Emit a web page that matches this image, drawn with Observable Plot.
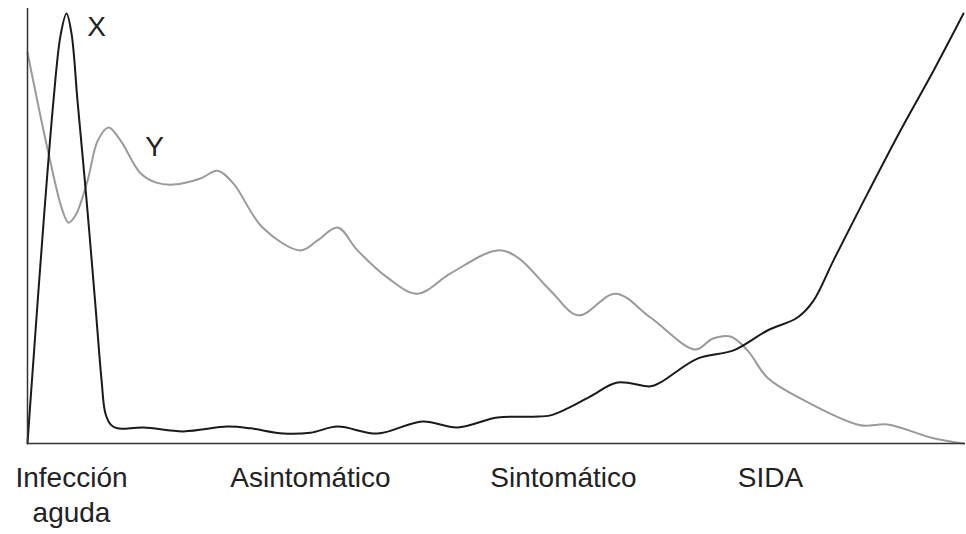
<!DOCTYPE html>
<html>
<head>
<meta charset="utf-8">
<script src="https://cdn.jsdelivr.net/npm/d3@7"></script>
<script src="https://cdn.jsdelivr.net/npm/@observablehq/plot@0.6"></script>
<style>
  html, body { margin: 0; padding: 0; background: #fff; }
  #chart { width: 966px; height: 534px; }
</style>
</head>
<body>
<div id="chart"></div>
<script>
// Time axis (0–100, arbitrary units) and level (0–100, arbitrary units)
const xTime = [0, 0.32, 1.71, 2.77, 3.52, 4.16, 4.69, 5.33, 6.3, 7.2, 7.9, 8.3, 8.9, 9.59, 12.37, 16.63, 21.32, 23.77, 27.29, 30.17, 33.05, 37.31, 42.11, 45.84, 50.11, 53.94, 55.76, 57.57, 60.02, 62.90, 66.42, 67.48, 71.43, 75.27, 78.89, 82.09, 83.80, 85.93, 89.55, 93.07, 96.59, 99.79];
const xLevel = [0, 9.9, 51.0, 79.2, 94.2, 99.3, 94.7, 79.2, 56.1, 33.0, 14.5, 7.0, 4.3, 3.5, 3.7, 2.8, 3.9, 3.5, 2.3, 2.5, 3.9, 2.3, 5.1, 3.7, 6.0, 6.2, 6.5, 8.1, 10.9, 14.1, 13.2, 14.1, 19.6, 21.5, 26.1, 29.1, 33.0, 42.3, 57.7, 72.3, 86.1, 99.3];

const yTime = [0, 2.24, 3.73, 4.37, 5.12, 6.40, 7.5, 8.64, 9.91, 12.05, 13.65, 15.57, 18.44, 20.26, 21.96, 25.05, 29.10, 30.92, 33.05, 35.18, 38.38, 41.58, 45.10, 50.11, 52.24, 55.76, 58.74, 62.69, 66.42, 71.22, 73.03, 74.95, 76.76, 78.89, 82.41, 88.81, 91.68, 96.59, 99.79];
const yLevel = [90.3, 67.0, 53.8, 51.0, 52.7, 60.7, 70.0, 73.0, 70.0, 62.4, 60.3, 59.8, 61.2, 63.0, 60.0, 49.9, 44.6, 46.9, 49.9, 44.6, 38.3, 34.6, 39.3, 44.6, 43.0, 35.3, 29.6, 34.6, 29.1, 21.7, 24.2, 24.7, 21.5, 15.2, 10.4, 4.2, 4.4, 1.2, 0];

// Stage labels on the time axis
const stageNames = ["Infección\naguda", "Asintomático", "Sintomático", "SIDA"];
const stageTimes = [4.69, 30.17, 57.14, 79.21];

// Curve labels
const curveNames = ["X", "Y"];
const curveLabelTime = [7.36, 13.54];
const curveLabelLevel = [96.2, 68.4];

const seriesX = xTime.map((t, i) => ({time: t, level: xLevel[i]}));
const seriesY = yTime.map((t, i) => ({time: t, level: yLevel[i]}));
const labels = curveNames.map((n, i) => ({name: n, time: curveLabelTime[i], level: curveLabelLevel[i]}));

const font = "'Liberation Sans', Arial, Helvetica, sans-serif";

const chart = Plot.plot({
  width: 966,
  height: 534,
  marginLeft: 27,
  marginRight: 1,
  marginTop: 8,
  marginBottom: 91,
  style: {fontFamily: font, background: "#fff"},
  x: {domain: [0, 100]},
  y: {domain: [0, 100.46]},
  marks: [
    Plot.axisY({ticks: [], tickSize: 0, label: null}),
    Plot.axisX(stageTimes, {
      tickSize: 0,
      tickPadding: 19,
      fontSize: 28,
      lineHeight: 1.25,
      fill: "#222",
      label: null,
      tickFormat: (d) => stageNames[stageTimes.indexOf(d)]
    }),
    Plot.line(seriesY, {x: "time", y: "level", curve: "catmull-rom", stroke: "#9a9a9a", strokeWidth: 2}),
    Plot.line(seriesX, {x: "time", y: "level", curve: "catmull-rom", stroke: "#1a1a1a", strokeWidth: 2}),
    Plot.ruleX([0], {stroke: "#333", strokeWidth: 1.5}),
    Plot.ruleY([0], {stroke: "#333", strokeWidth: 1.5}),
    Plot.text(labels, {x: "time", y: "level", text: "name", fontSize: 28, fill: "#222", textAnchor: "middle"})
  ]
});
document.getElementById("chart").appendChild(chart);
</script>
</body>
</html>
